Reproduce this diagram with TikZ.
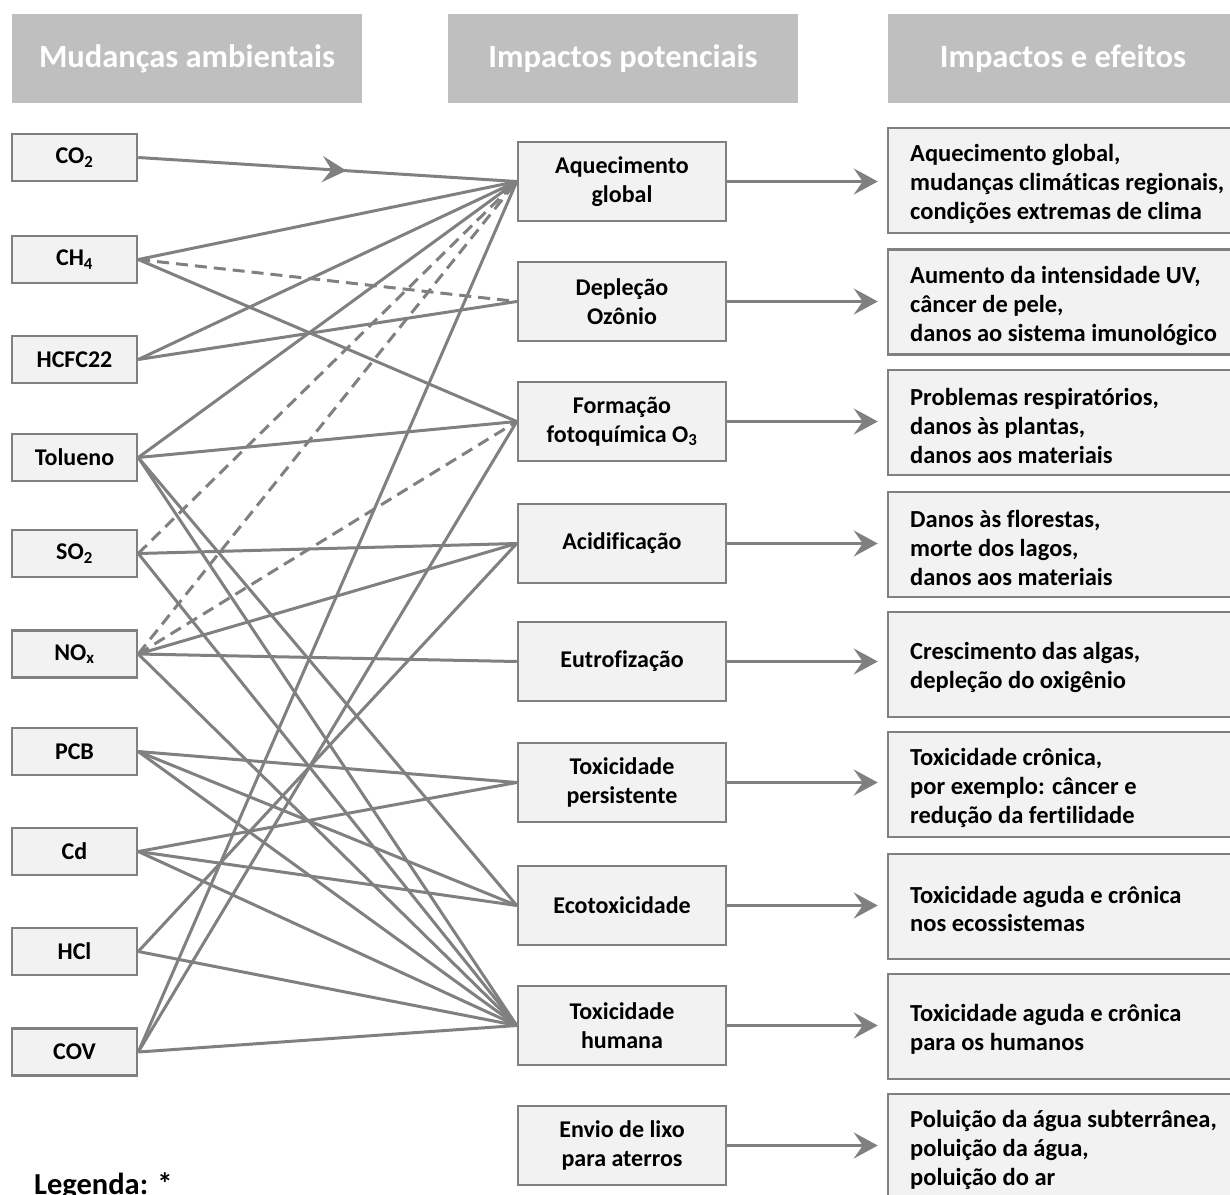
\documentclass[tikz,border=0pt]{standalone}
\usepackage{fontspec}
\setmainfont{Carlito}[Ligatures={NoCommon}]
\usetikzlibrary{arrows.meta,decorations.markings}
\definecolor{boxfill}{HTML}{F2F2F2}
\definecolor{boxline}{HTML}{808080}
\definecolor{hdr}{HTML}{BFBFBF}
\definecolor{conn}{HTML}{808080}
\begin{document}
\begin{tikzpicture}[x=1pt,y=-1pt,
  hdrbox/.style={fill=hdr, draw=none, minimum width=350pt, minimum height=89pt, inner sep=0pt, text=white, font=\fontsize{32.5}{36}\selectfont\bfseries},
  srcbox/.style={draw=boxline, line width=2.5pt, fill=boxfill, minimum width=125pt, minimum height=47pt, inner sep=0pt, font=\fontsize{24}{28}\selectfont\bfseries},
  midbox/.style={draw=boxline, line width=2.5pt, fill=boxfill, minimum width=208pt, minimum height=79pt, inner sep=0pt, align=center, font=\fontsize{24}{28.5}\selectfont\bfseries},
  effbox/.style={draw=boxline, line width=2.5pt, fill=boxfill, minimum width=354pt, minimum height=105pt, inner sep=0pt},
  efftext/.style={anchor=west, align=left, inner sep=0pt, font=\fontsize{24.5}{28.8}\selectfont\bfseries},
  link/.style={draw=conn, line width=3pt},
  dlink/.style={link, dash pattern=on 12pt off 7pt},
  headtip/.tip={Stealth[length=24pt,width=26pt,inset=9pt]},
  effarrow/.style={draw=conn, line width=3pt, -headtip, shorten >=9pt},
]
\useasboundingbox (0,0) rectangle (1230,1194);

% headers
\node[hdrbox] (h1) at (187,58.5) {Mudanças ambientais};
\node[hdrbox] (h2) at (623,58.5) {Impactos potenciais};
\node[hdrbox] (h3) at (1063,58.5) {Impactos e efeitos};

% left column
\node[srcbox] (co2) at (74.5,157.5) {CO\textsubscript{2}};
\node[srcbox] (ch4) at (74.5,259.5) {CH\textsubscript{4}};
\node[srcbox] (hcfc) at (74.5,359.5) {HCFC22};
\node[srcbox] (tol) at (74.5,457.5) {Tolueno};
\node[srcbox] (so2) at (74.5,553.5) {SO\textsubscript{2}};
\node[srcbox] (nox) at (74.5,654) {NO\textsubscript{x}};
\node[srcbox] (pcb) at (74.5,751.5) {PCB};
\node[srcbox] (cd) at (74.5,851.5) {Cd};
\node[srcbox] (hcl) at (74.5,951.5) {HCl};
\node[srcbox] (cov) at (74.5,1052) {COV};

% middle column
\node[midbox] (aq) at (622,181.5) {Aquecimento\\global};
\node[midbox] (dep) at (622,301.5) {Depleção\\Ozônio};
\node[midbox] (form) at (622,421.5) {Formação\\fotoquímica O\textsubscript{3}};
\node[midbox] (acid) at (622,543.5) {Acidificação};
\node[midbox] (eut) at (622,661.5) {Eutrofização};
\node[midbox] (tpers) at (622,782.5) {Toxicidade\\persistente};
\node[midbox] (eco) at (622,905.5) {Ecotoxicidade};
\node[midbox] (thum) at (622,1025.5) {Toxicidade\\humana};
\node[midbox] (lixo) at (622,1145.5) {Envio de lixo\\para aterros};

% right column
\node[effbox] (e1) at (1065,180.5) {};
\node[effbox] (e2) at (1065,302) {};
\node[effbox] (e3) at (1065,422.5) {};
\node[effbox] (e4) at (1065,544.5) {};
\node[effbox] (e5) at (1065,664.5) {};
\node[effbox] (e6) at (1065,784.5) {};
\node[effbox] (e7) at (1065,906.5) {};
\node[effbox] (e8) at (1065,1026.5) {};
\node[effbox] (e9) at (1065,1146.5) {};
\node[efftext] (t1) at (910,184) {Aquecimento global,\\mudanças climáticas regionais,\\condições extremas de clima};
\node[efftext] (t2) at (910,306) {Aumento da intensidade UV,\\câncer de pele,\\danos ao sistema imunológico};
\node[efftext] (t3) at (910,426) {Problemas respiratórios,\\danos às plantas,\\danos aos materiais};
\node[efftext] (t4) at (910,548) {Danos às florestas,\\morte dos lagos,\\danos aos materiais};
\node[efftext] (t5) at (910,667.5) {Crescimento das algas,\\depleção do oxigênio};
\node[efftext] (t6) at (910,788) {Toxicidade crônica,\\por exemplo: câncer e\\redução da fertilidade};
\node[efftext] (t7) at (910,909) {Toxicidade aguda e crônica\\nos ecossistemas};
\node[efftext] (t8) at (910,1029) {Toxicidade aguda e crônica\\para os humanos};
\node[efftext] (t9) at (910,1150) {Poluição da água subterrânea,\\poluição da água,\\poluição do ar};

\node[anchor=base west, inner sep=0pt, font=\fontsize{30.5}{34}\selectfont\bfseries] (leg) at (34,1194) {Legenda: *};

% connectors to impacts
\draw[link, postaction={decorate}, decoration={markings, mark=at position 0.55 with {\arrow{headtip}}}] (co2.east) -- (aq.west);
\draw[link] (ch4.east) -- (aq.west);
\draw[dlink] (ch4.east) -- (dep.west);
\draw[link] (ch4.east) -- (form.west);
\draw[link] (hcfc.east) -- (aq.west);
\draw[link] (hcfc.east) -- (dep.west);
\draw[link] (tol.east) -- (aq.west);
\draw[link] (tol.east) -- (form.west);
\draw[link] (tol.east) -- (eco.west);
\draw[link] (tol.east) -- (thum.west);
\draw[dlink] (so2.east) -- (aq.west);
\draw[link] (so2.east) -- (acid.west);
\draw[link] (so2.east) -- (thum.west);
\draw[dlink] (nox.east) -- (aq.west);
\draw[dlink] (nox.east) -- (form.west);
\draw[link] (nox.east) -- (acid.west);
\draw[link] (nox.east) -- (eut.west);
\draw[link] (nox.east) -- (thum.west);
\draw[link] (pcb.east) -- (tpers.west);
\draw[link] (pcb.east) -- (eco.west);
\draw[link] (pcb.east) -- (thum.west);
\draw[link] (cd.east) -- (tpers.west);
\draw[link] (cd.east) -- (eco.west);
\draw[link] (cd.east) -- (thum.west);
\draw[link] (hcl.east) -- (acid.west);
\draw[link] (hcl.east) -- (thum.west);
\draw[link] (cov.east) -- (aq.west);
\draw[link] (cov.east) -- (form.west);
\draw[link] (cov.east) -- (thum.west);

% arrows to effects
\draw[effarrow] (aq.east) -- (aq.east -| e1.west);
\draw[effarrow] (dep.east) -- (dep.east -| e2.west);
\draw[effarrow] (form.east) -- (form.east -| e3.west);
\draw[effarrow] (acid.east) -- (acid.east -| e4.west);
\draw[effarrow] (eut.east) -- (eut.east -| e5.west);
\draw[effarrow] (tpers.east) -- (tpers.east -| e6.west);
\draw[effarrow] (eco.east) -- (eco.east -| e7.west);
\draw[effarrow] (thum.east) -- (thum.east -| e8.west);
\draw[effarrow] (lixo.east) -- (lixo.east -| e9.west);
\end{tikzpicture}
\end{document}
